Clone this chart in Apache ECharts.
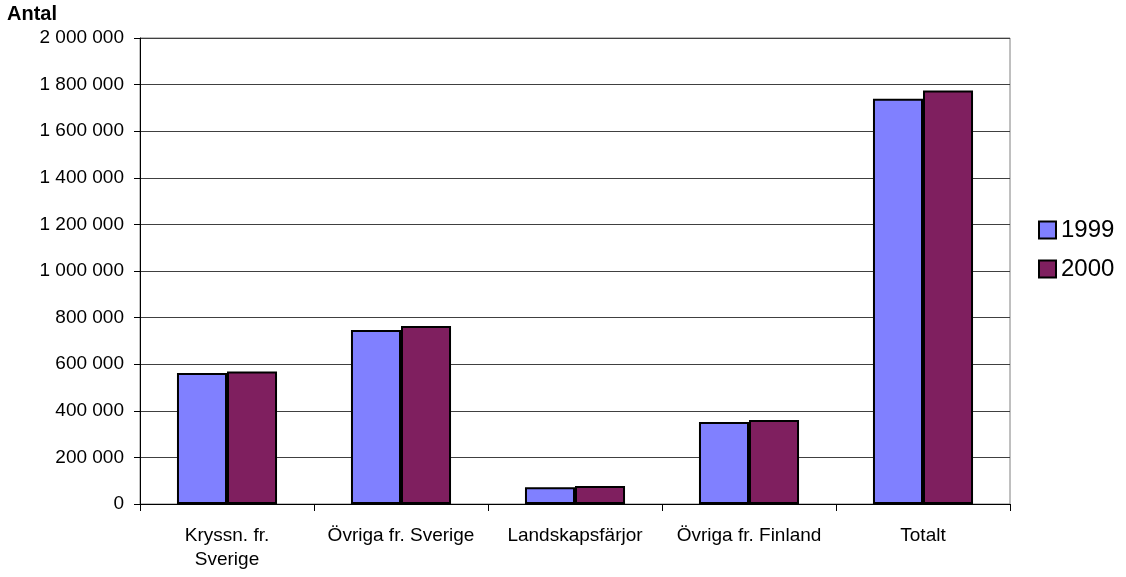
<!DOCTYPE html>
<html><head><meta charset="utf-8">
<script src="https://cdn.jsdelivr.net/npm/echarts@6/dist/echarts.min.js"></script>
<style>html,body{margin:0;padding:0;background:#fff}#c{width:1126px;height:577px}</style>
</head><body><div id="c"></div>
<script>
const categories = ['Kryssn. fr.\nSverige', 'Övriga fr. Sverige', 'Landskapsfärjor', 'Övriga fr. Finland', 'Totalt'];
const s1999 = [562000, 747000, 72000, 352000, 1739000];
const s2000 = [569000, 764000, 77000, 360000, 1775000];
const seriesNames = ['1999', '2000'];
const yTicks = [0, 200000, 400000, 600000, 800000, 1000000, 1200000, 1400000, 1600000, 1800000, 2000000];

const FONT = 'Liberation Sans, Arial, sans-serif';
const fmt = v => String(v).replace(/\B(?=(\d{3})+(?!\d))/g, ' ');
const chart = echarts.init(document.getElementById('c'), null, {renderer: 'canvas'});
chart.setOption({
  backgroundColor: '#fff',
  animation: false,
  textStyle: {fontFamily: FONT},
  title: {text: 'Antal', left: 7, top: 4, padding: 0, textStyle: {fontSize: 20, fontWeight: 'bold', color: '#000', fontFamily: FONT}},
  legend: {
    orient: 'vertical', left: 1038, top: 218, padding: 0, icon: 'rect', itemWidth: 17, itemHeight: 17, itemGap: 15,
    textStyle: {fontSize: 24, lineHeight: 24, color: '#000', fontFamily: FONT},
    data: seriesNames
  },
  grid: {left: 140, right: 116, top: 38, bottom: 73, containLabel: false, show: true, borderColor: '#808080', borderWidth: 1},
  xAxis: {
    type: 'category', data: categories,
    axisLine: {lineStyle: {color: '#000', width: 1}},
    axisTick: {show: true, interval: 0, length: 7, lineStyle: {color: '#000'}},
    axisLabel: {interval: 0, hideOverlap: false, fontSize: 19, color: '#000', margin: 20, lineHeight: 24, fontFamily: FONT}
  },
  yAxis: {
    type: 'value', min: yTicks[0], max: yTicks[yTicks.length - 1], interval: 200000,
    axisLine: {show: true, lineStyle: {color: '#000', width: 1}},
    axisTick: {show: true, length: 6, lineStyle: {color: '#000'}},
    axisLabel: {fontSize: 19, color: '#000', margin: 16, fontFamily: FONT, formatter: v => fmt(v)},
    splitLine: {lineStyle: {color: '#404040', width: 1}}
  },
  series: [
    {name: seriesNames[0], type: 'bar', data: s1999, barGap: '0%', barCategoryGap: '42.5%',
     itemStyle: {color: '#8080FF', borderColor: '#000', borderWidth: 2}},
    {name: seriesNames[1], type: 'bar', data: s2000,
     itemStyle: {color: '#7F1F5F', borderColor: '#000', borderWidth: 2}}
  ]
});
</script></body></html>
